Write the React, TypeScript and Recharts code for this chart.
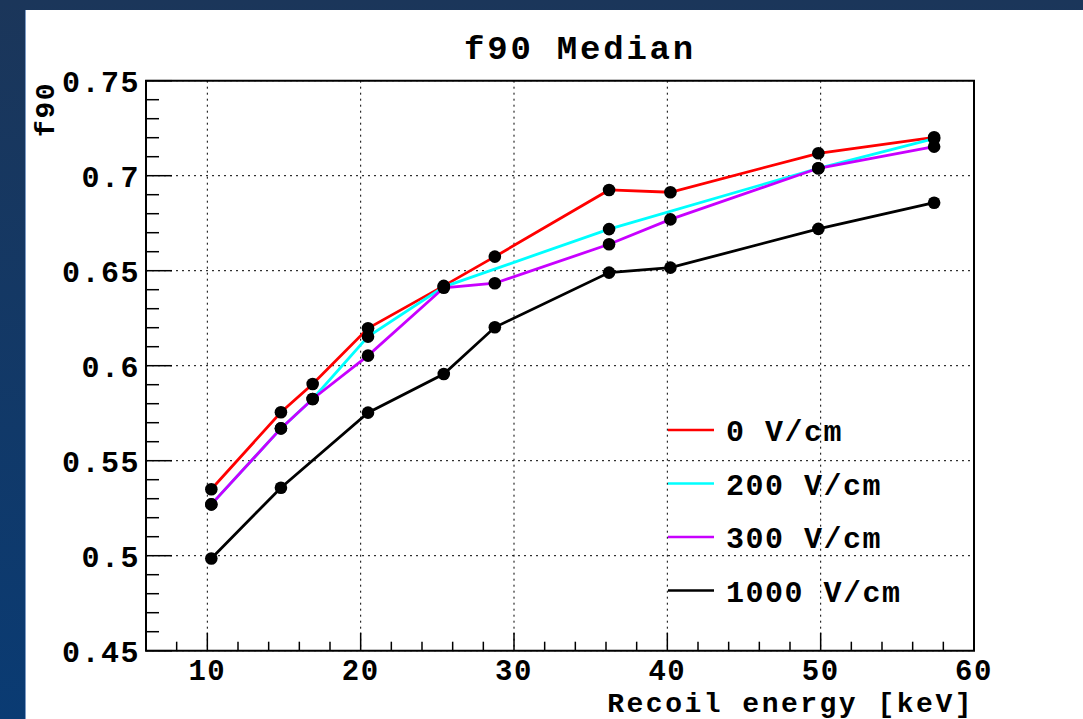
import {
  Legend,
  Line,
  LineChart,
  CartesianGrid,
  ReferenceArea,
  XAxis,
  YAxis,
} from 'recharts';

// recoil energies [keV] shared by all field settings
const ENERGY = [10.26, 14.8, 16.87, 20.48, 25.42, 28.75, 36.2, 40.2, 49.85, 57.4];

// f90 medians per drift field (null = no point at that energy)
const F90_0V = [0.535, 0.5755, 0.5904, 0.6197, 0.642, 0.6574, 0.6925, 0.6913, 0.7118, 0.7202];
const F90_200V = [0.527, 0.567, 0.5825, 0.6153, 0.6415, null, 0.6719, null, 0.7039, 0.7195];
const F90_300V = [0.527, 0.567, 0.5825, 0.6053, 0.641, 0.6434, 0.6639, 0.677, 0.7039, 0.7153];
const F90_1000V = [0.4985, 0.5358, null, 0.5753, 0.5956, 0.6202, 0.649, 0.6516, 0.672, 0.6858];

const SERIES_NAMES = ['0 V/cm', '200 V/cm', '300 V/cm', '1000 V/cm'];
const SERIES_COLORS = ['#ff0000', '#00ffff', '#c800ff', '#000000'];
const SERIES_VALUES = [F90_0V, F90_200V, F90_300V, F90_1000V];

const X_MAJOR_TICKS = [10, 20, 30, 40, 50, 60];
const Y_MAJOR_TICKS = [0.45, 0.5, 0.55, 0.6, 0.65, 0.7, 0.75];

const X_DOMAIN: [number, number] = [6, 60];
const Y_DOMAIN: [number, number] = [0.45, 0.75];

const FONT = '"Liberation Mono", "Courier New", monospace';

// minor ticks every 2 keV / every 0.01
const xTicks: number[] = [];
for (let v = 8; v <= 60; v += 2) xTicks.push(v);
const yTicks: number[] = [];
for (let i = 0; i <= 30; i++) yTicks.push(Math.round((0.45 + i * 0.01) * 100) / 100);

const seriesData = SERIES_VALUES.map((vals) =>
  ENERGY.map((x, i) => ({ x, y: vals[i] })).filter((p) => p.y !== null),
);

const textStyle = {
  fontFamily: FONT,
  fontWeight: 700,
  fontSize: 30,
  letterSpacing: 1.5,
  fill: '#000',
};

function XTick(props: any) {
  const { x, y, payload } = props;
  const major = X_MAJOR_TICKS.includes(payload.value);
  return (
    <g>
      <line x1={x} x2={x} y1={y} y2={y - (major ? 18 : 9)} stroke="#000" strokeWidth={1.5} />
      {major && (
        <text x={x} y={y + 29} textAnchor="middle" style={{ ...textStyle, fontSize: 29 }}>
          {String(payload.value)}
        </text>
      )}
    </g>
  );
}

function YTick(props: any) {
  const { x, y, payload } = props;
  const major = Y_MAJOR_TICKS.some((t) => Math.abs(t - payload.value) < 1e-6);
  return (
    <g>
      <line x1={x} x2={x + (major ? 26 : 13)} y1={y} y2={y} stroke="#000" strokeWidth={1.5} />
      {major && (
        <text x={x - 6} y={y + 11} textAnchor="end" style={textStyle}>
          {String(payload.value)}
        </text>
      )}
    </g>
  );
}

function LegendBox() {
  return (
    <svg width={320} height={230}>
      {SERIES_NAMES.map((name, i) => (
        <g key={name}>
          <line
            x1={12}
            x2={58}
            y1={30 + i * 53.5}
            y2={30 + i * 53.5}
            stroke={SERIES_COLORS[i]}
            strokeWidth={2.5}
          />
          <text x={70} y={41 + i * 53.5} style={textStyle}>
            {name}
          </text>
        </g>
      ))}
    </svg>
  );
}

export default function App() {
  return (
    <div
      style={{
        position: 'fixed',
        left: 0,
        top: 0,
        width: 1083,
        height: 719,
        background: 'linear-gradient(to bottom, #1b365a, #0a3b73)',
      }}
    >
      <div
        style={{
          position: 'absolute',
          left: 25,
          top: 10,
          width: 1058,
          height: 709,
          background: '#fff',
          borderLeft: '1px solid #7e9cc6',
          boxSizing: 'border-box',
        }}
      >
        <LineChart
          width={1058}
          height={709}
          margin={{ top: 70.7, right: 110, bottom: 0, left: 0 }}
        >
          <CartesianGrid
            stroke="#000"
            strokeWidth={1}
            strokeDasharray="2 4"
            horizontalValues={Y_MAJOR_TICKS}
            verticalValues={X_MAJOR_TICKS}
          />
          <XAxis
            type="number"
            dataKey="x"
            domain={X_DOMAIN}
            ticks={xTicks}
            interval={0}
            height={68.3}
            tickSize={0}
            tickMargin={0}
            tickLine={false}
            axisLine={false}
            tick={<XTick />}
            allowDataOverflow
          />
          <YAxis
            type="number"
            dataKey="y"
            domain={Y_DOMAIN}
            ticks={yTicks}
            interval={0}
            width={120}
            tickSize={0}
            tickMargin={0}
            tickLine={false}
            axisLine={false}
            tick={<YTick />}
            allowDataOverflow
          />
          <ReferenceArea
            x1={X_DOMAIN[0]}
            x2={X_DOMAIN[1]}
            y1={Y_DOMAIN[0]}
            y2={Y_DOMAIN[1]}
            fill="none"
            stroke="#000"
            strokeWidth={2}
          />
          {SERIES_NAMES.map((name, i) => (
            <Line
              key={name}
              data={seriesData[i]}
              dataKey="y"
              name={name}
              type="linear"
              stroke={SERIES_COLORS[i]}
              strokeWidth={2.8}
              dot={{ r: 6.3, fill: '#000', stroke: '#000', strokeWidth: 0 }}
              activeDot={false}
              isAnimationActive={false}
            />
          ))}
          <Legend
            layout="vertical"
            align="center"
            verticalAlign="middle"
            content={<LegendBox />}
            wrapperStyle={{ left: 630, top: 390, width: 320, height: 230 }}
          />
          <text x={554} y={49} textAnchor="middle" style={{ ...textStyle, fontSize: 34, letterSpacing: 2.8 }}>
            f90 Median
          </text>
          <text x={948} y={702} textAnchor="end" style={{ ...textStyle, fontSize: 28, letterSpacing: 2.5 }}>
            Recoil energy [keV]
          </text>
          <text
            x={28}
            y={72}
            transform="rotate(-90 28 72)"
            textAnchor="end"
            style={{ ...textStyle, fontSize: 28 }}
          >
            f90
          </text>
        </LineChart>
      </div>
    </div>
  );
}
